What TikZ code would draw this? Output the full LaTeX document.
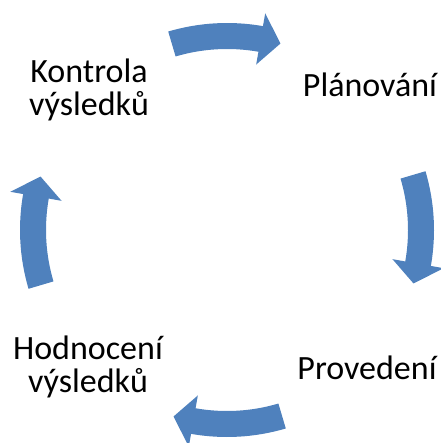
\documentclass[tikz,border=0pt]{standalone}
\usepackage{fontspec}
\setmainfont{Carlito}
\definecolor{arrowblue}{HTML}{4F81BD}
\begin{document}
\begin{tikzpicture}[x=1pt,y=1pt,
  arrowfill/.style={fill=arrowblue},
  label/.style={font=\fontsize{34}{33}\selectfont, align=center, inner sep=0pt, anchor=base}]
\useasboundingbox (0,0) rectangle (440,-443);
\coordinate (C) at (227,-230);
\foreach \a in {90,0,-90,180}{
  \pgfmathsetmacro{\ta}{\a+16.5}
  \pgfmathsetmacro{\ba}{\a-10}
  \pgfmathsetmacro{\pa}{\a-16}
  \fill[arrowfill] ([shift={(C)}]\ta:207) arc[start angle=\ta, end angle=\ba, radius=207]
    -- ([shift={(C)}]\ba:220) -- ([shift={(C)}]\pa:194) -- ([shift={(C)}]\ba:168)
    -- ([shift={(C)}]\ba:181) arc[start angle=\ba, end angle=\ta, radius=181] -- cycle;
}
\node[label] (kontrola) at (89,-116) {Kontrola\\v\'ysledk\r{u}};
\node[label] (planovani) at (370,-97) {Pl\'anov\'an\'{\i}};
\node[label] (provedeni) at (367,-379) {Proveden\'{\i}};
\node[label] (hodnoceni) at (88,-392) {Hodnocen\'{\i}\\v\'ysledk\r{u}};
\end{tikzpicture}
\end{document}
